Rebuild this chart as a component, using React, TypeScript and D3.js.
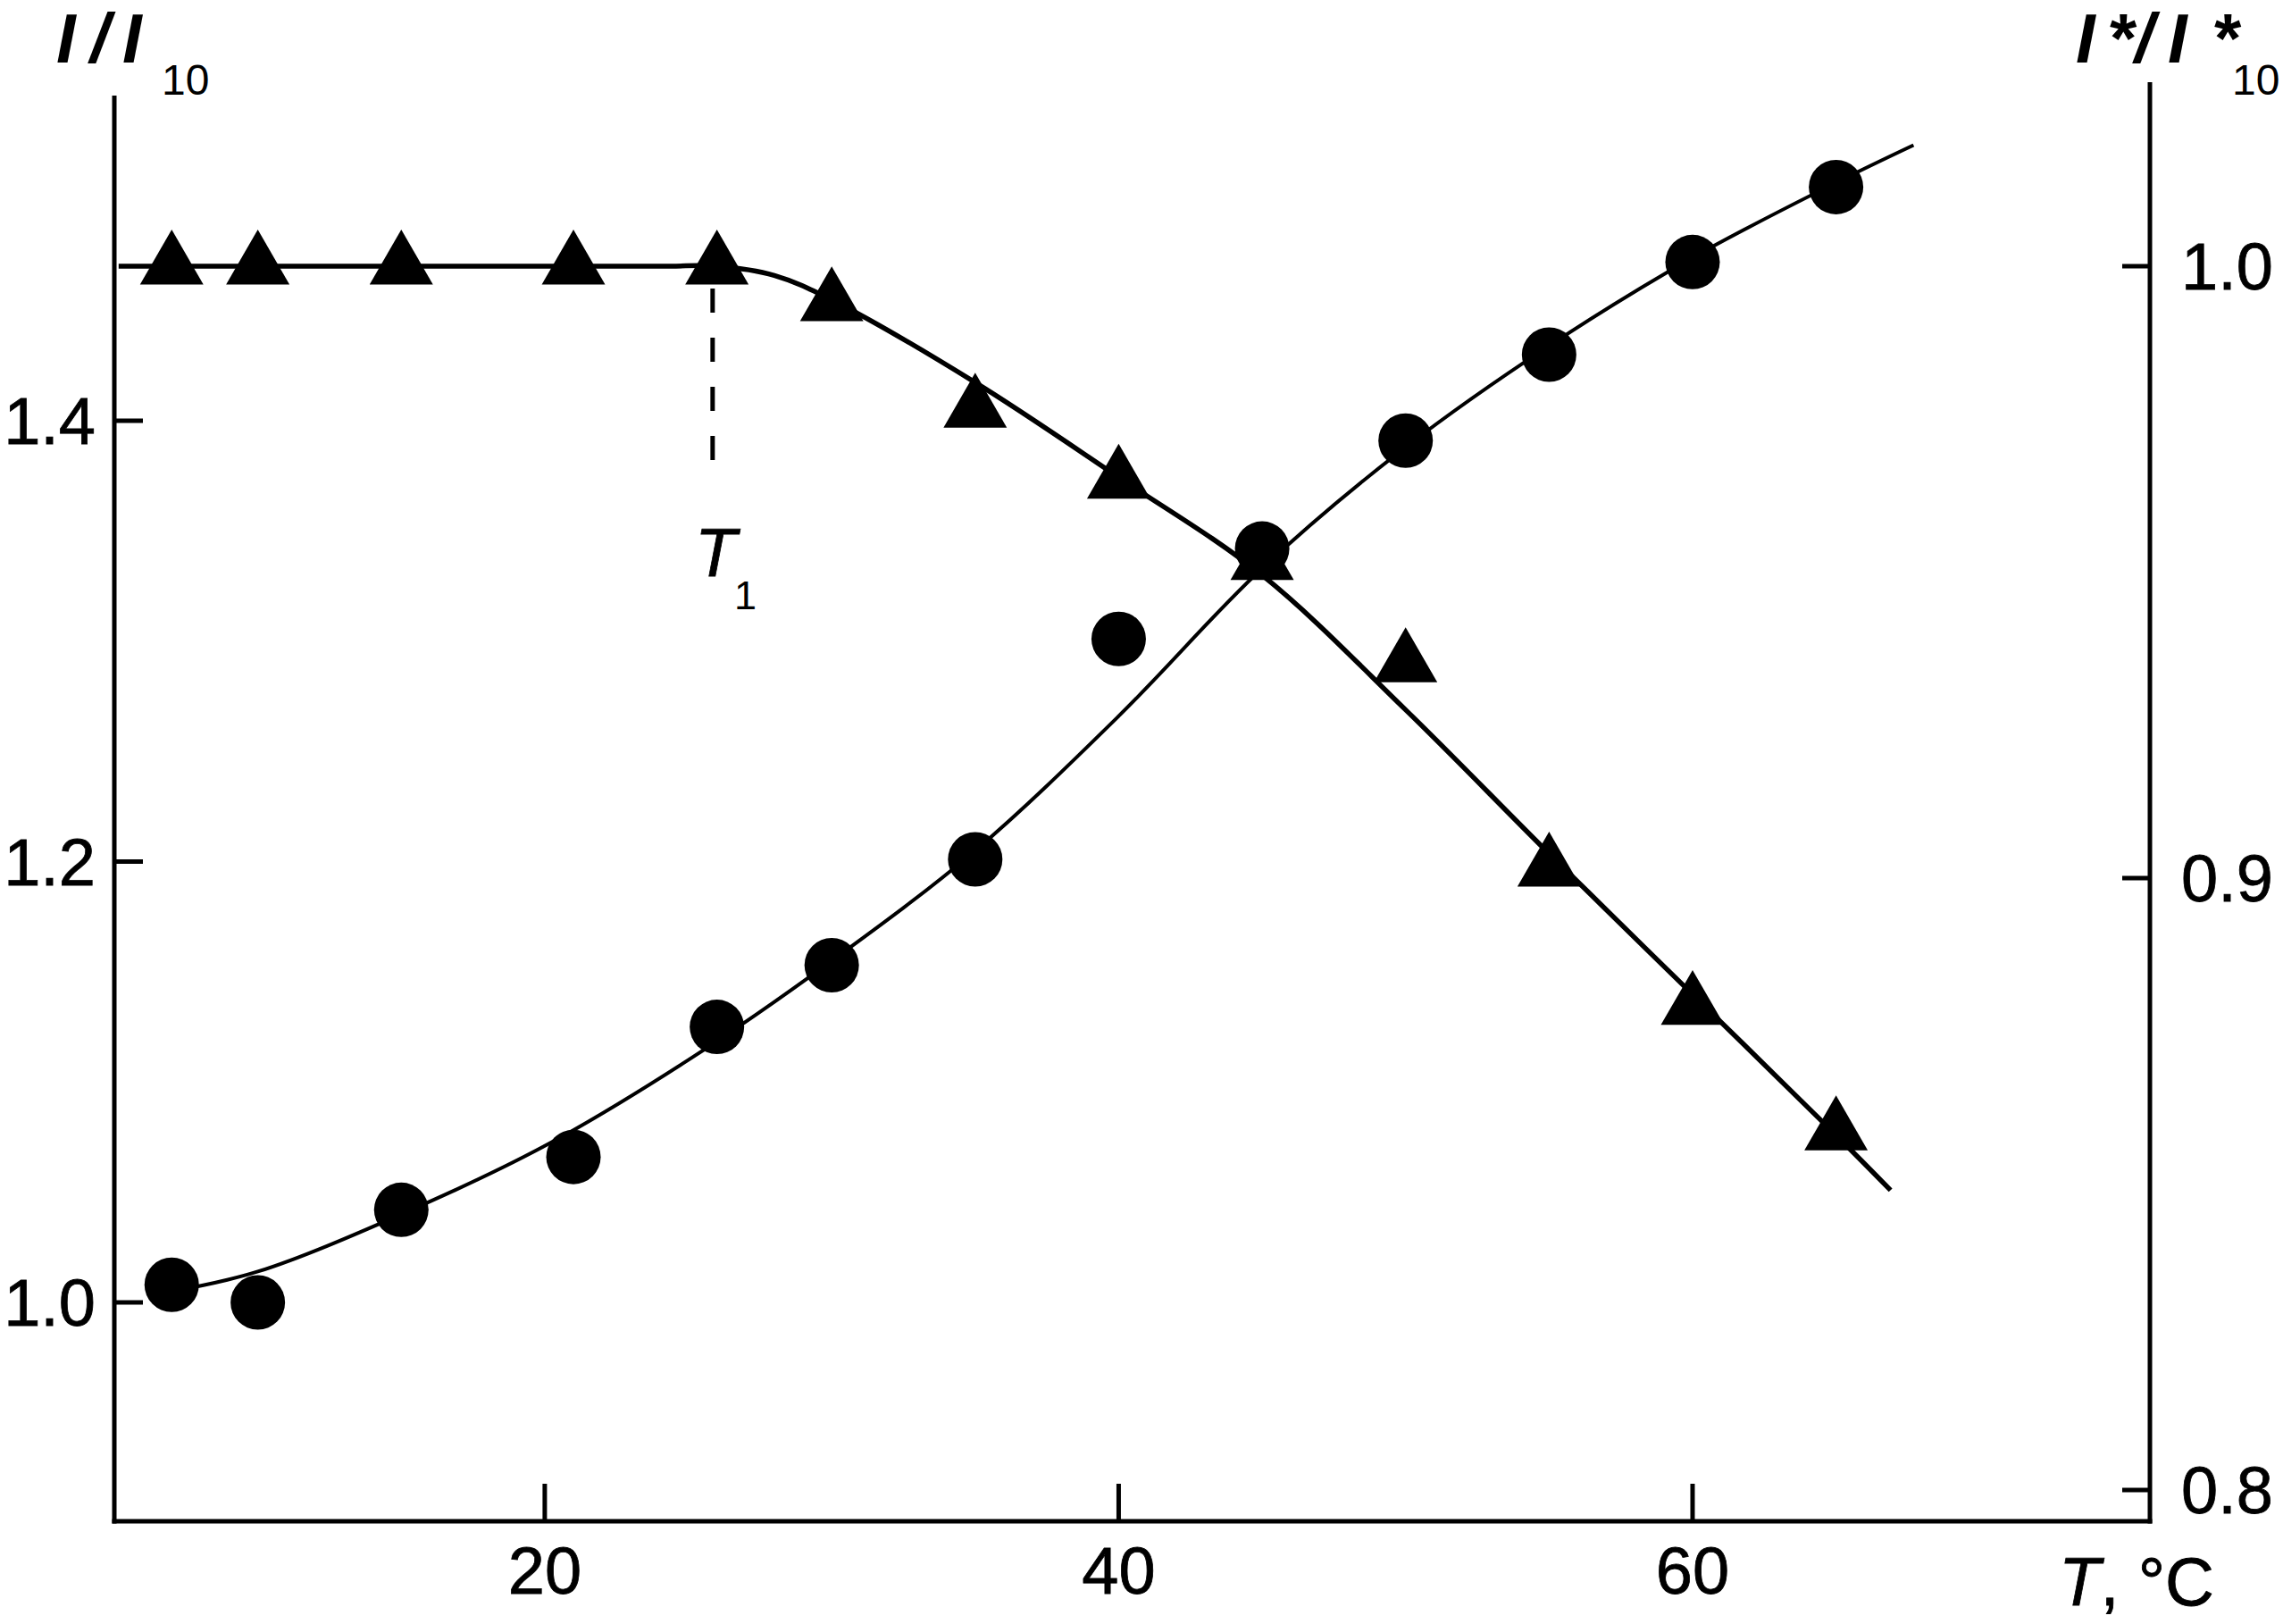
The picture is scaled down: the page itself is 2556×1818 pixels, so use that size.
import React from "react";
import * as d3 from "d3";

// temperatures of the measured points, °C
const temps = [7, 10, 15, 21, 26, 30, 35, 40, 45, 50, 55, 60, 65];
// circles, left axis I/I10
const circleVals = [1.008, 1.0, 1.042, 1.066, 1.125, 1.153, 1.201, 1.301, 1.342, 1.391, 1.43, 1.472, 1.506];
// triangles, right axis I*/I*10
const triVals = [1.0, 1.0, 1.0, 1.0, 1.0, 0.994, 0.9766, 0.965, 0.9517, 0.935, 0.9016, 0.879, 0.8585];

// fitted curves
const circleFitT = [7, 10, 15, 20, 25, 30, 35, 40, 45, 50, 55, 60, 65, 67.7];
const circleFitV = [1.005, 1.014, 1.04, 1.071, 1.11, 1.155, 1.205, 1.266, 1.333, 1.388, 1.434, 1.474, 1.508, 1.525];
const triFitT = [5.15, 24, 26, 28, 30, 35, 40, 45, 50, 55, 60, 65, 66.9];
const triFitV = [1.0, 1.0, 1.0, 0.9985, 0.9945, 0.981, 0.9655, 0.9495, 0.9275, 0.904, 0.881, 0.858, 0.849];

const xTicks = [20, 40, 60];
const leftTicks = [1.0, 1.2, 1.4];
const rightTicks = [0.8, 0.9, 1.0];
const T1 = 25.85;

const W = 2556, H = 1818;
const font = "'Liberation Sans', Arial, sans-serif";

export default function App() {
  const x = d3.scaleLinear().domain([5, 76]).range([128, 2409]);
  const yL = d3.scaleLinear().domain([1.0, 1.4]).range([1458, 471]);
  const yR = d3.scaleLinear().domain([0.8, 1.0]).range([1668, 298]);
  const bottom = 1703, left = x(5), right = 2407;

  const circleLine = d3.line<number>()
    .x((d, i) => x(circleFitT[i]))
    .y(d => yL(d))
    .curve(d3.curveCatmullRom.alpha(0.5));
  const triLine = d3.line<number>()
    .x((d, i) => x(triFitT[i]))
    .y(d => yR(d))
    .curve(d3.curveCatmullRom.alpha(0.5));
  const tri = d3.symbol().type(d3.symbolTriangle).size(2180)();

  return (
    <svg width={W} height={H} style={{ position: "absolute", left: 0, top: 0, background: "#fff" }}
      fontFamily={font}>
      {/* axes */}
      <g stroke="#000" strokeWidth={5} fill="none">
        <line x1={left} y1={107} x2={left} y2={bottom + 2.5} />
        <line x1={left - 2.5} y1={bottom} x2={right + 2.5} y2={bottom} />
        <line x1={right} y1={92} x2={right} y2={bottom + 2.5} />
        {xTicks.map(t => <line key={"xt" + t} x1={x(t)} x2={x(t)} y1={bottom} y2={bottom - 42} />)}
        {leftTicks.map(t => <line key={"lt" + t} x1={left} x2={left + 32} y1={yL(t)} y2={yL(t)} />)}
        {rightTicks.map(t => <line key={"rt" + t} x1={right} x2={right - 31} y1={yR(t)} y2={yR(t)} />)}
      </g>
      <g fontSize={74} fill="#000" stroke="#000" strokeWidth={0.8}>
        {xTicks.map(t => <text key={"xl" + t} x={x(t)} y={1784} textAnchor="middle">{t}</text>)}
        {leftTicks.map(t => <text key={"ll" + t} x={107} y={yL(t) + 26} textAnchor="end">{t.toFixed(1)}</text>)}
        {rightTicks.map(t => <text key={"rl" + t} x={2442} y={yR(t) + 26}>{t.toFixed(1)}</text>)}
      </g>

      {/* axis titles */}
      <text fontSize={78} y={70} fontWeight={700}>
        <tspan x={63} fontStyle="italic">I</tspan>
        <tspan x={101} fontStyle="italic">/</tspan>
        <tspan x={137} fontStyle="italic">I</tspan>
      </text>
      <text fontSize={48} x={181} y={106}>10</text>
      <text fontSize={78} y={70} fontWeight={700}>
        <tspan x={2324} fontStyle="italic">I</tspan>
        <tspan x={2362}>*</tspan>
        <tspan x={2390} fontStyle="italic">/</tspan>
        <tspan x={2427} fontStyle="italic">I</tspan>
        <tspan x={2479}>*</tspan>
      </text>
      <text fontSize={48} x={2499} y={106}>10</text>
      <text fontSize={76} x={2305} y={1797} stroke="#000" strokeWidth={0.8}>
        <tspan fontStyle="italic">T</tspan>, °C
      </text>

      {/* T1 marker */}
      <line x1={x(T1)} x2={x(T1)} y1={323} y2={515} stroke="#000" strokeWidth={5} strokeDasharray="27 28" />
      <text fontSize={76} x={778} y={645} fontStyle="italic" stroke="#000" strokeWidth={0.8}>T</text>
      <text fontSize={45} x={822} y={682}>1</text>

      {/* fitted curves */}
      <path d={circleLine(circleFitV) || ""} fill="none" stroke="#000" strokeWidth={4} />
      <path d={triLine(triFitV) || ""} fill="none" stroke="#000" strokeWidth={5.5} />

      {/* points */}
      {temps.map((t, i) => (
        <circle key={"c" + t} cx={x(t)} cy={yL(circleVals[i])} r={30.5} fill="#000" />
      ))}
      {temps.map((t, i) => (
        <path key={"t" + t} d={tri || ""} transform={`translate(${x(t)},${yR(triVals[i])})`} fill="#000" />
      ))}
    </svg>
  );
}
